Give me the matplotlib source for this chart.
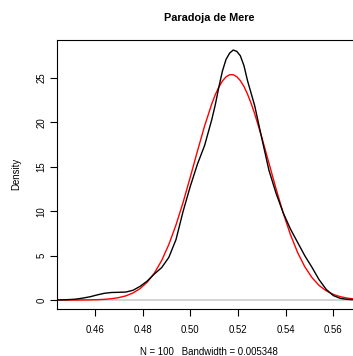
import matplotlib
matplotlib.use('Agg')
import matplotlib.pyplot as plt

plt.rcParams['font.family'] = ['Liberation Sans', 'DejaVu Sans']

curve_x = [0.443, 0.446, 0.449, 0.452, 0.455, 0.458, 0.461, 0.464, 0.467, 0.470,
           0.473, 0.476, 0.479, 0.482, 0.485, 0.488, 0.491, 0.494, 0.497, 0.500,
           0.503, 0.506, 0.509, 0.5105, 0.512, 0.5135, 0.515, 0.5165, 0.518, 0.5195,
           0.521, 0.5225, 0.524, 0.5255, 0.527, 0.530, 0.533, 0.536, 0.539, 0.542,
           0.545, 0.548, 0.551, 0.554, 0.557, 0.560, 0.563, 0.566, 0.569]

# kernel density estimate (black)
kde_y = [0.01, 0.02, 0.05, 0.10, 0.22, 0.37, 0.58, 0.76, 0.85, 0.87,
         0.90, 1.10, 1.55, 2.15, 2.95, 3.65, 4.8, 6.8, 10.0, 12.8,
         15.3, 17.4, 20.3, 22.0, 24.0, 25.8, 27.1, 27.8, 28.15, 28.0,
         27.5, 26.4, 24.7, 23.3, 21.9, 18.2, 14.6, 12.0, 9.8, 8.0,
         6.5, 5.0, 3.7, 2.3, 1.2, 0.5, 0.18, 0.07, 0.03]

# normal curve (red)
norm_y = [0.00, 0.00, 0.00, 0.00, 0.01, 0.02, 0.04, 0.08, 0.15, 0.27,
          0.47, 0.80, 1.30, 2.03, 3.06, 4.45, 6.25, 8.45, 11.01, 13.84,
          16.77, 19.60, 22.08, 23.13, 23.99, 24.67, 25.13, 25.37, 25.37, 25.15,
          24.70, 24.05, 23.19, 22.16, 20.98, 18.31, 15.41, 12.50, 9.77, 7.37,
          5.36, 3.76, 2.54, 1.65, 1.04, 0.63, 0.37, 0.21, 0.11]

xticks = [0.46, 0.48, 0.50, 0.52, 0.54, 0.56]
yticks = [0, 5, 10, 15, 20, 25]

W, H = 353, 356
fig = plt.figure(figsize=(W / 100, H / 100), dpi=100)
# plot region runs past the right edge of the image, as in the original
ax = fig.add_axes([57 / W, 1 - 309 / H, (361 - 57) / W, (309 - 40) / H])

ax.axhline(0, color='#d0d0d0', lw=1.3, zorder=1)
ax.plot(curve_x, kde_y, color='black', lw=1.0, zorder=3)
ax.plot(curve_x, norm_y, color='red', lw=1.0, zorder=2)

ax.set_xlim(0.4441, 0.5716)
ax.set_ylim(-1.01, 29.28)

ax.set_xticks(xticks)
ax.set_xticklabels(['%.2f' % t for t in xticks])
ax.set_yticks(yticks)
ax.set_yticklabels([str(t) for t in yticks], rotation=90, va='center')
ax.tick_params(direction='out', length=5, width=0.8, labelsize=6.9, pad=6.5)
ax.tick_params(axis='y', pad=2.5)

for s in ax.spines.values():
    s.set_linewidth(0.8)

ax.set_title('Paradoja de Mere', fontsize=7.8, fontweight='bold', pad=13.8)
fig.text(209 / W, 1 - 355 / H, 'N = 100   Bandwidth = 0.005348',
         ha='center', va='baseline', fontsize=6.9)
fig.text(16.5 / W, 1 - 174 / H, 'Density', rotation=90,
         ha='center', va='center', fontsize=6.9)

fig.savefig('out.png', dpi=100)
